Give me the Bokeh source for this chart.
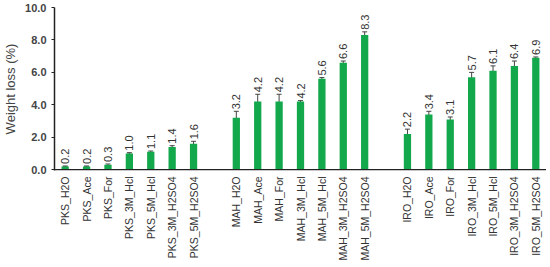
import math
from bokeh.plotting import figure
from bokeh.layouts import column
from bokeh.models import ColumnDataSource, Range1d, FixedTicker, Whisker, TeeHead, NumeralTickFormatter, Span
from bokeh.core.properties import value
from bokeh.embed import file_html
from bokeh.resources import INLINE

categories = ["PKS_H2O", "PKS_Ace", "PKS_For", "PKS_3M_Hcl", "PKS_5M_Hcl", "PKS_3M_H2SO4", "PKS_5M_H2SO4",
              "MAH_H2O", "MAH_Ace", "MAH_For", "MAH_3M_Hcl", "MAH_5M_Hcl", "MAH_3M_H2SO4", "MAH_5M_H2SO4",
              "IRO_H2O", "IRO_Ace", "IRO_For", "IRO_3M_Hcl", "IRO_5M_Hcl", "IRO_3M_H2SO4", "IRO_5M_H2SO4"]
values = [0.2, 0.2, 0.3, 1.0, 1.1, 1.4, 1.6,
          3.2, 4.2, 4.2, 4.2, 5.6, 6.6, 8.3,
          2.2, 3.4, 3.1, 5.7, 6.1, 6.4, 6.9]
errors = [0.03, 0.03, 0.05, 0.05, 0.05, 0.08, 0.15,
          0.4, 0.45, 0.45, 0.06, 0.08, 0.1, 0.2,
          0.3, 0.2, 0.15, 0.3, 0.3, 0.3, 0.05]
labels = ["0.2", "0.2", "0.3", "1.0", "1.1", "1.4", "1.6",
          "3.2", "4.2", "4.2", "4.2", "5.6", "6.6", "8.3",
          "2.2", "3.4", "3.1", "5.7", "6.1", "6.4", "6.9"]
y_ticks = [0, 2, 4, 6, 8, 10]

# positions: groups of 7 separated by one empty slot
xs = [i + (i // 7) for i in range(len(categories))]
tops = [v + e for v, e in zip(values, errors)]
lowers = [v - e for v, e in zip(values, errors)]
base = [0] * len(xs)

src = ColumnDataSource(dict(x=xs, v=values, up=tops, lo=lowers, lab=labels, cat=categories, base=base))
xr = Range1d(-0.5, 22.5)

p = figure(width=546, height=175, output_backend="svg", toolbar_location=None,
           x_range=xr, y_range=Range1d(-0.05, 10), x_axis_location=None,
           min_border_left=47, min_border_right=0, min_border_top=7, min_border_bottom=5)
p.outline_line_color = None
p.grid.visible = False

bar_color = "#14a84c"
p.vbar(x="x", top="v", bottom=0, width=0.34, source=src, fill_color=bar_color, line_color=None)

wh = Whisker(base="x", upper="up", lower="lo", source=src, line_color="#444444", line_width=1,
             upper_head=TeeHead(size=5, line_color="#444444", line_width=1),
             lower_head=TeeHead(size=5, line_color="#444444", line_width=1))
p.add_layout(wh)

p.text(x="x", y="up", text="lab", source=src, angle=math.pi / 2, text_align="left",
       text_baseline="middle", y_offset=-2, text_font=value("Liberation Sans"),
       text_font_size="11px", text_color="#333333")

# x axis baseline at 0
p.add_layout(Span(location=0, dimension="width", line_color="#222222", line_width=1.5))

# y axis
p.yaxis.ticker = FixedTicker(ticks=y_ticks)
p.yaxis.formatter = NumeralTickFormatter(format="0.0")
p.yaxis.minor_tick_line_color = None
p.yaxis.major_tick_out = 3
p.yaxis.major_tick_in = 0
p.yaxis.major_tick_line_color = "#222222"
p.yaxis.axis_line_color = "#222222"
p.yaxis.axis_line_width = 1.5
p.yaxis.major_label_text_font = "Liberation Sans"
p.yaxis.major_label_text_font_size = "11px"
p.yaxis.major_label_text_font_style = "bold"
p.yaxis.major_label_text_color = "#444444"
p.yaxis.major_label_standoff = 5
p.yaxis.axis_label = "Weight loss (%)"
p.yaxis.axis_label_text_font = "Liberation Sans"
p.yaxis.axis_label_text_font_size = "13px"
p.yaxis.axis_label_text_font_style = "normal"
p.yaxis.axis_label_text_color = "#444444"
p.yaxis.axis_label_standoff = 4

# category label panel sharing the x scale
p2 = figure(width=546, height=88, output_backend="svg", toolbar_location=None,
            x_range=xr, y_range=Range1d(-1, 0), x_axis_location=None, y_axis_location=None,
            min_border_left=47, min_border_right=0, min_border_top=0, min_border_bottom=0)
p2.outline_line_color = None
p2.grid.visible = False
p2.text(x="x", y="base", text="cat", source=src, angle=math.pi / 2, text_align="right",
        text_baseline="middle", y_offset=1, text_font=value("Liberation Sans"),
        text_font_size="10.5px", text_color="#333333")

layout = column(p, p2, spacing=0)
open("out.html", "w").write(file_html(layout, INLINE))
